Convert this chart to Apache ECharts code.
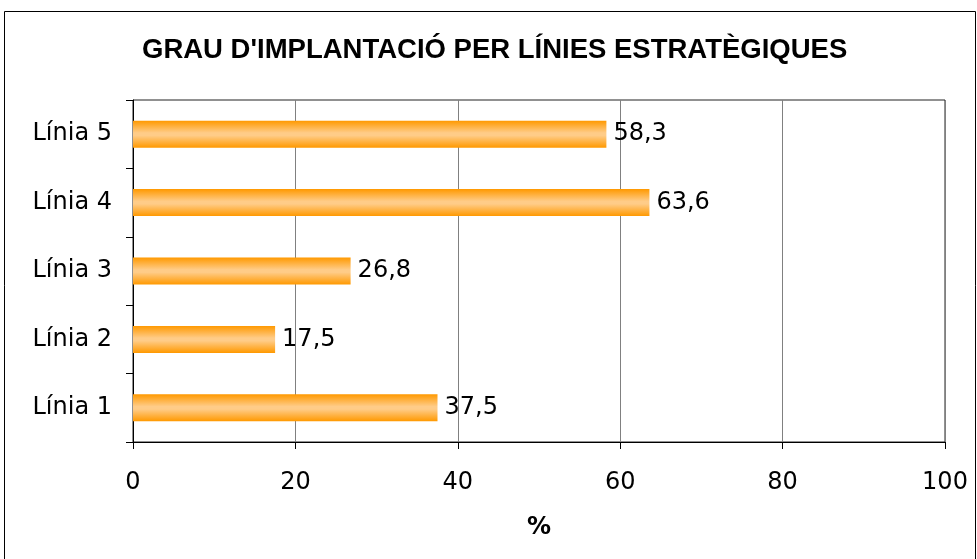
<!DOCTYPE html>
<html>
<head>
<meta charset="utf-8">
<script src="https://cdn.jsdelivr.net/npm/echarts@6/dist/echarts.min.js"></script>
<style>
  html, body { margin: 0; padding: 0; background: #fff; }
  #chart { width: 977px; height: 559px; }
</style>
</head>
<body>
<div id="chart"></div>
<script>
const categories = ["Línia 1", "Línia 2", "Línia 3", "Línia 4", "Línia 5"];
const values = [37.5, 17.5, 26.8, 63.6, 58.3];

const chart = echarts.init(document.getElementById("chart"));

const barColor = new echarts.graphic.LinearGradient(0, 0, 0, 1, [
  { offset: 0, color: "#ff9900" },
  { offset: 0.45, color: "#ffcc88" },
  { offset: 0.55, color: "#ffcc88" },
  { offset: 1, color: "#ff9900" },
]);

chart.setOption({
  animation: false,
  title: {
    text: "GRAU D'IMPLANTACIÓ PER LÍNIES ESTRATÈGIQUES",
    left: 137,
    top: 31,
    textStyle: {
      fontFamily: "Liberation Sans",
      fontWeight: "bold",
      fontSize: 27.5,
      color: "#000",
    },
  },
  graphic: [
    {
      type: "rect",
      shape: { x: 4.5, y: 11.5, width: 971, height: 560 },
      style: { fill: null, stroke: "#000", lineWidth: 1 },
      silent: true,
    },
  ],
  grid: {
    left: 133,
    right: 32,
    top: 100,
    bottom: 117,
    show: true,
    borderColor: "#222",
    borderWidth: 1,
  },
  xAxis: {
    type: "value",
    min: 0,
    max: 100,
    interval: 20,
    name: "%",
    nameLocation: "middle",
    nameGap: 74,
    nameTextStyle: {
      fontFamily: "DejaVu Sans",
      fontWeight: "bold",
      fontSize: 24,
      color: "#000",
    },
    axisLine: { show: true, lineStyle: { color: "#000", width: 1 } },
    axisTick: { show: true, length: 7, lineStyle: { color: "#000" } },
    axisLabel: {
      margin: 29,
      fontFamily: "DejaVu Sans",
      fontSize: 24,
      color: "#000",
    },
    splitLine: { show: true, lineStyle: { color: "#808080", width: 1 } },
  },
  yAxis: {
    type: "category",
    data: categories,
    axisLine: { show: true, lineStyle: { color: "#000", width: 1 } },
    axisTick: { show: true, length: 7, alignWithLabel: false, lineStyle: { color: "#000" } },
    axisLabel: {
      margin: 21,
      fontFamily: "DejaVu Sans",
      fontSize: 24,
      color: "#000",
    },
    splitLine: { show: false },
  },
  series: [
    {
      type: "bar",
      data: values,
      barWidth: 27,
      itemStyle: { color: barColor },
      label: {
        show: true,
        position: "right",
        distance: 7,
        fontFamily: "DejaVu Sans",
        fontSize: 24,
        color: "#000",
        formatter: (p) => p.value.toFixed(1).replace(".", ","),
      },
    },
  ],
});
</script>
</body>
</html>
